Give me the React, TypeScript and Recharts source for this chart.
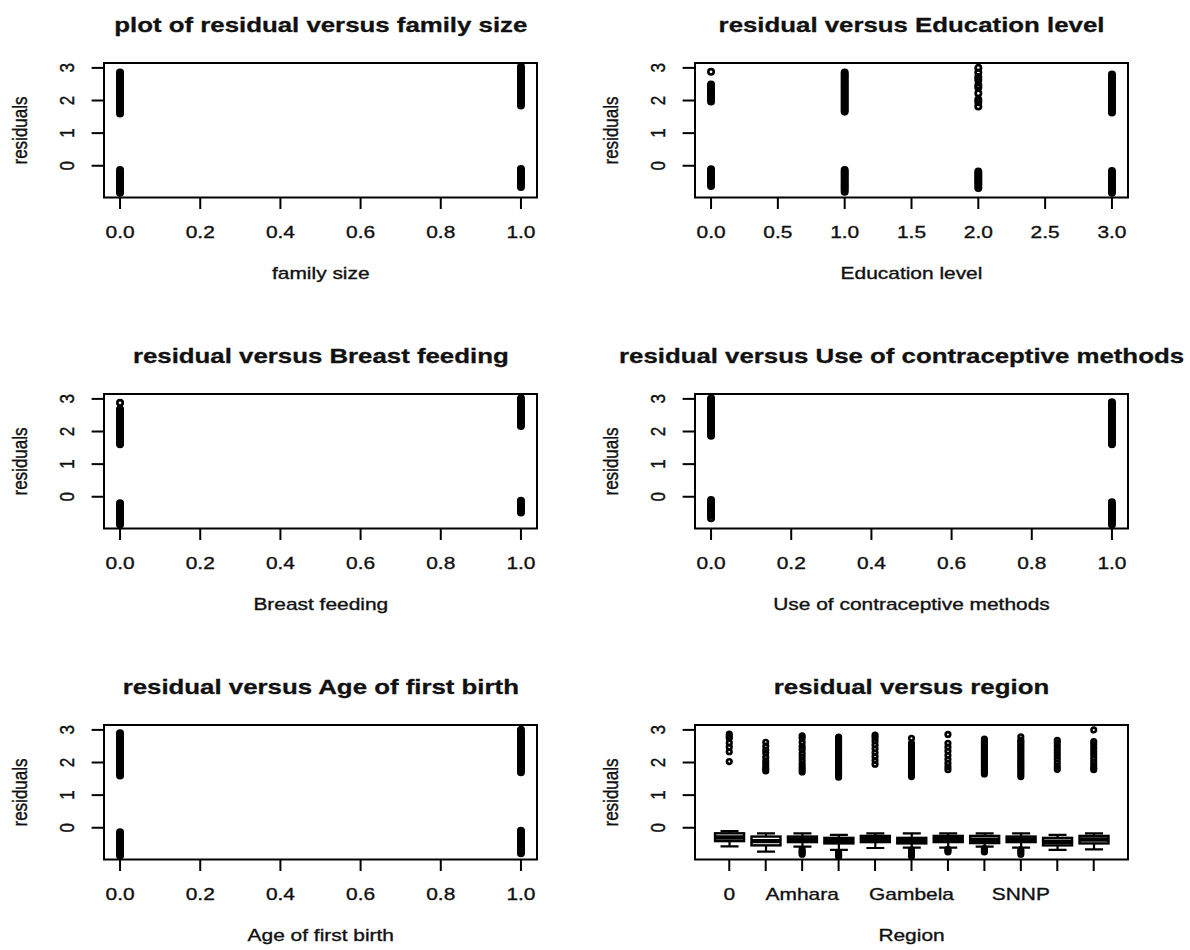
import React from "react";
import {
  ScatterChart,
  ComposedChart,
  Scatter,
  Bar,
  XAxis,
  YAxis,
  ReferenceArea,
} from "recharts";

// residuals, one list per vertical cluster
const familySize0 = [1.6, 1.66, 1.71, 1.78, 1.84, 1.9, 1.95, 2.02, 2.08, 2.13, 2.2, 2.26, 2.31, 2.38, 2.44, 2.49, 2.56, 2.62, 2.67, 2.74, 2.8, 2.86,
  -0.13, -0.19, -0.25, -0.3, -0.37, -0.43, -0.48, -0.55, -0.61, -0.66, -0.72, -0.78, -0.83];
const familySize1 = [1.85, 1.91, 1.97, 2.03, 2.1, 2.15, 2.22, 2.28, 2.33, 2.4, 2.46, 2.51, 2.58, 2.64, 2.7, 2.76, 2.81, 2.88, 2.94, 2.99, 3.04,
  -0.1, -0.16, -0.22, -0.28, -0.33, -0.4, -0.46, -0.51, -0.58, -0.65];

const education0 = [2.88, 1.97, 2.03, 2.09, 2.15, 2.21, 2.27, 2.33, 2.38, 2.44, 2.49,
  -0.11, -0.17, -0.23, -0.29, -0.35, -0.41, -0.46, -0.52, -0.57, -0.62];
const education1 = [1.66, 1.72, 1.78, 1.84, 1.9, 1.96, 2.02, 2.08, 2.14, 2.2, 2.26, 2.32, 2.38, 2.44, 2.5, 2.56, 2.62, 2.68, 2.74, 2.8, 2.86,
  -0.13, -0.19, -0.25, -0.31, -0.37, -0.43, -0.49, -0.55, -0.61, -0.67, -0.73, -0.8];
const education2 = [1.82, 1.95, 2.03, 2.22, 2.4, 2.47, 2.63, 2.72, 2.86, 3.0,
  -0.18, -0.24, -0.3, -0.36, -0.42, -0.48, -0.54, -0.6, -0.68];
const education3 = [1.63, 1.69, 1.75, 1.81, 1.87, 1.93, 1.99, 2.05, 2.11, 2.17, 2.23, 2.29, 2.35, 2.41, 2.47, 2.53, 2.59, 2.65, 2.71, 2.76, 2.8,
  -0.16, -0.22, -0.28, -0.34, -0.4, -0.46, -0.52, -0.58, -0.64, -0.7, -0.76, -0.83];

const breastFeeding0 = [2.88, 1.61, 1.67, 1.73, 1.79, 1.85, 1.91, 1.97, 2.03, 2.09, 2.15, 2.21, 2.27, 2.33, 2.39, 2.45, 2.51, 2.57, 2.63, 2.68,
  -0.2, -0.26, -0.32, -0.38, -0.44, -0.5, -0.56, -0.62, -0.68, -0.74, -0.8, -0.85];
const breastFeeding1 = [2.17, 2.23, 2.29, 2.35, 2.41, 2.47, 2.53, 2.59, 2.65, 2.71, 2.77, 2.83, 2.89, 2.95, 3.02,
  -0.12, -0.18, -0.24, -0.3, -0.36, -0.42, -0.48];

const contraceptive0 = [1.87, 1.93, 1.99, 2.05, 2.11, 2.17, 2.23, 2.29, 2.35, 2.41, 2.47, 2.53, 2.59, 2.65, 2.71, 2.77, 2.83, 2.89, 2.95, 3.02,
  -0.1, -0.16, -0.22, -0.28, -0.34, -0.4, -0.46, -0.52, -0.58, -0.66];
const contraceptive1 = [1.61, 1.67, 1.73, 1.79, 1.85, 1.91, 1.97, 2.03, 2.09, 2.15, 2.21, 2.27, 2.33, 2.39, 2.45, 2.51, 2.57, 2.63, 2.69, 2.75, 2.81, 2.86, 2.9,
  -0.17, -0.23, -0.29, -0.35, -0.41, -0.47, -0.53, -0.59, -0.65, -0.71, -0.77, -0.85];

const firstBirth0 = [1.6, 1.66, 1.72, 1.78, 1.84, 1.9, 1.96, 2.02, 2.08, 2.14, 2.2, 2.26, 2.32, 2.38, 2.44, 2.5, 2.56, 2.62, 2.68, 2.74, 2.8, 2.86, 2.9,
  -0.14, -0.2, -0.26, -0.32, -0.38, -0.44, -0.5, -0.56, -0.62, -0.68, -0.74, -0.8, -0.85];
const firstBirth1 = [1.7, 1.76, 1.82, 1.88, 1.94, 2.0, 2.06, 2.12, 2.18, 2.24, 2.3, 2.36, 2.42, 2.48, 2.54, 2.6, 2.66, 2.72, 2.78, 2.84, 2.9, 2.95, 3.0,
  -0.09, -0.15, -0.21, -0.27, -0.33, -0.39, -0.45, -0.51, -0.57, -0.63, -0.69, -0.74, -0.78];

// region boxplot
const regions = ["0", "Addis Ababa", "Amhara", "Benishangul", "Dire Dawa", "Gambela", "Harari", "Oromia", "SNNP", "Somali", "Tigray"];
const regionTickLabels = ["0", "", "Amhara", "", "", "Gambela", "", "", "SNNP", "", ""];
const regionWhiskerLow = [-0.57, -0.73, -0.58, -0.68, -0.62, -0.61, -0.61, -0.58, -0.61, -0.68, -0.66];
const regionQ1 = [-0.41, -0.54, -0.44, -0.48, -0.44, -0.48, -0.44, -0.47, -0.44, -0.54, -0.48];
const regionMedian = [-0.3, -0.41, -0.36, -0.4, -0.34, -0.4, -0.35, -0.37, -0.36, -0.43, -0.36];
const regionQ3 = [-0.17, -0.27, -0.27, -0.31, -0.25, -0.31, -0.25, -0.25, -0.27, -0.31, -0.25];
const regionWhiskerHigh = [-0.1, -0.17, -0.17, -0.22, -0.17, -0.17, -0.17, -0.17, -0.17, -0.22, -0.17];
const regionOutliersHigh = [
  [2.87, 2.8, 2.74, 2.6, 2.47, 2.33, 2.03],
  [2.62, 2.5, 2.38, 2.29, 2.16, 2.05, 1.95, 1.86, 1.8, 1.74],
  [2.82, 2.74, 2.62, 2.5, 2.4, 2.28, 2.17, 2.06, 1.96, 1.87, 1.79, 1.71],
  [2.78, 2.72, 2.66, 2.6, 2.53, 2.47, 2.41, 2.35, 2.29, 2.22, 2.16, 2.1, 2.04, 1.98, 1.91, 1.85, 1.79, 1.73, 1.67, 1.61, 1.55],
  [2.84, 2.76, 2.66, 2.54, 2.42, 2.3, 2.18, 2.06, 1.95],
  [2.74, 2.59, 2.53, 2.47, 2.41, 2.35, 2.28, 2.22, 2.16, 2.1, 2.04, 1.98, 1.92, 1.86, 1.8, 1.74, 1.68, 1.62, 1.57],
  [2.86, 2.59, 2.47, 2.35, 2.22, 2.1, 1.98, 1.87, 1.78],
  [2.72, 2.64, 2.58, 2.52, 2.46, 2.4, 2.34, 2.27, 2.21, 2.15, 2.09, 2.03, 1.97, 1.9, 1.84, 1.78, 1.72, 1.65],
  [2.79, 2.69, 2.63, 2.57, 2.51, 2.44, 2.38, 2.32, 2.26, 2.2, 2.13, 2.07, 2.01, 1.95, 1.88, 1.82, 1.76, 1.7, 1.63, 1.57],
  [2.68, 2.6, 2.5, 2.4, 2.3, 2.2, 2.1, 1.99, 1.88, 1.79],
  [3.0, 2.64, 2.55, 2.44, 2.34, 2.24, 2.13, 2.02, 1.92, 1.84, 1.78],
];
const regionOutliersLow = [
  [], [], [-0.66, -0.72, -0.77, -0.81], [-0.76, -0.81, -0.85, -0.88], [],
  [-0.68, -0.74, -0.8, -0.87], [-0.66, -0.7, -0.74], [-0.64, -0.69, -0.74], [-0.68, -0.74, -0.81], [], [],
];

const unitTicks = [0, 0.2, 0.4, 0.6, 0.8, 1];
const unitTickLabels = ["0.0", "0.2", "0.4", "0.6", "0.8", "1.0"];
const eduTicks = [0, 0.5, 1, 1.5, 2, 2.5, 3];
const eduTickLabels = ["0.0", "0.5", "1.0", "1.5", "2.0", "2.5", "3.0"];
const residualTicks = [0, 1, 2, 3];
const regionTicks = [1, 2, 3, 4, 5, 6, 7, 8, 9, 10, 11];

const FONT = '"Liberation Sans", Arial, Helvetica, sans-serif';
const STRETCH = 1.23; // the reference is stretched sideways
const Y_DOMAIN = [-0.97, 3.15];
const BOX_W = 433;
const BOX_H = 134.4;
const Y_AXIS_W = 50;
const X_AXIS_H = 52;
const PAD = 3;
const COL_LEFT = [104.3, 695];
const rowTop = (r: number) => 63.3 + 331 * r;

const pts = (x: number, ys: number[]) => ys.map((y) => ({ x, y }));

const scatterPanels = [
  {
    title: "plot of residual versus family size", xLabel: "family size", row: 0, col: 0,
    xDomain: [-0.04, 1.04], xTicks: unitTicks, xTickLabels: unitTickLabels,
    points: [...pts(0, familySize0), ...pts(1, familySize1)],
  },
  {
    title: "residual versus Education level", xLabel: "Education level", row: 0, col: 1,
    xDomain: [-0.12, 3.12], xTicks: eduTicks, xTickLabels: eduTickLabels,
    points: [...pts(0, education0), ...pts(1, education1), ...pts(2, education2), ...pts(3, education3)],
  },
  {
    title: "residual versus Breast feeding", xLabel: "Breast feeding", row: 1, col: 0,
    xDomain: [-0.04, 1.04], xTicks: unitTicks, xTickLabels: unitTickLabels,
    points: [...pts(0, breastFeeding0), ...pts(1, breastFeeding1)],
  },
  {
    title: "residual versus Use of contraceptive methods", xLabel: "Use of contraceptive methods", row: 1, col: 1,
    xDomain: [-0.04, 1.04], xTicks: unitTicks, xTickLabels: unitTickLabels,
    points: [...pts(0, contraceptive0), ...pts(1, contraceptive1)],
  },
  {
    title: "residual versus Age of first birth", xLabel: "Age of first birth", row: 2, col: 0,
    xDomain: [-0.04, 1.04], xTicks: unitTicks, xTickLabels: unitTickLabels,
    points: [...pts(0, firstBirth0), ...pts(1, firstBirth1)],
  },
];

const regionRows = regions.map((name, i) => ({
  pos: i + 1,
  name,
  whiskerLow: regionWhiskerLow[i],
  q1: regionQ1[i],
  median: regionMedian[i],
  q3: regionQ3[i],
  whiskerHigh: regionWhiskerHigh[i],
}));
const regionOutliers = regions.flatMap((_, i) =>
  [...regionOutliersHigh[i], ...regionOutliersLow[i]].map((value) => ({ pos: i + 1, value }))
);

const tickLineStyle = { stroke: "#000", strokeWidth: 2 };

function XTick(props: any) {
  const { x, y, payload, labels, ticks } = props;
  const label = labels[ticks.indexOf(payload.value)];
  return (
    <text transform={`translate(${x},${y + 28.9}) scale(${STRETCH},1)`} textAnchor="middle"
      fontFamily={FONT} fontSize={17} fill="#111" stroke="#111" strokeWidth={0.35}>
      {label}
    </text>
  );
}

function YTick(props: any) {
  const { x, y, payload } = props;
  return (
    <text transform={`translate(${x - 18.1},${y}) scale(${STRETCH},1) rotate(-90)`} textAnchor="middle"
      fontFamily={FONT} fontSize={17} fill="#111" stroke="#111" strokeWidth={0.35}>
      {String(payload.value)}
    </text>
  );
}

const Ring = (props: any) => (
  <circle cx={props.cx} cy={props.cy} r={2.7} fill="none" stroke="#000" strokeWidth={2.65} />
);

const SmallRing = (props: any) => (
  <circle cx={props.cx} cy={props.cy} r={2.3} fill="none" stroke="#000" strokeWidth={2.6} />
);

function BoxShape(props: any) {
  const { x, y, width, height, payload } = props;
  const top = Math.min(y, y + height);
  const h = Math.abs(height);
  const lo = payload.whiskerLow;
  const hi = payload.whiskerHigh;
  const py = (v: number) => top + (h * (hi - v)) / (hi - lo);
  const cx = x + width / 2;
  const staple = 9;
  return (
    <g>
      <line x1={cx} x2={cx} y1={py(hi)} y2={py(lo)} stroke="#000" strokeWidth={2.2} />
      <line x1={cx - staple} x2={cx + staple} y1={py(hi)} y2={py(hi)} stroke="#000" strokeWidth={2.2} />
      <line x1={cx - staple} x2={cx + staple} y1={py(lo)} y2={py(lo)} stroke="#000" strokeWidth={2.2} />
      <rect x={x} y={py(payload.q3)} width={width} height={py(payload.q1) - py(payload.q3)}
        fill="#fff" stroke="#000" strokeWidth={2.4} />
      <line x1={x} x2={x + width} y1={py(payload.median)} y2={py(payload.median)} stroke="#000" strokeWidth={4.4} />
    </g>
  );
}

function ScatterPanel({ panel }: any) {
  const left = COL_LEFT[panel.col];
  const top = rowTop(panel.row);
  return (
    <div style={{ position: "absolute", left: left - Y_AXIS_W, top: top - PAD }}>
      <ScatterChart width={Y_AXIS_W + BOX_W + PAD} height={PAD + BOX_H + X_AXIS_H}
        margin={{ top: PAD, right: PAD, bottom: 0, left: 0 }}>
        <XAxis type="number" dataKey="x" domain={panel.xDomain} ticks={panel.xTicks} interval={0}
          allowDataOverflow axisLine={false} tickLine={tickLineStyle} tickSize={11.6} tickMargin={0}
          height={X_AXIS_H} tick={(p: any) => <XTick {...p} labels={panel.xTickLabels} ticks={panel.xTicks} />} />
        <YAxis type="number" dataKey="y" domain={Y_DOMAIN} ticks={residualTicks} interval={0}
          allowDataOverflow axisLine={false} tickLine={tickLineStyle} tickSize={12.4} tickMargin={0}
          width={Y_AXIS_W} tick={(p: any) => <YTick {...p} />} />
        <Scatter data={panel.points} shape={Ring} isAnimationActive={false} />
        <ReferenceArea x1={panel.xDomain[0]} x2={panel.xDomain[1]} y1={Y_DOMAIN[0]} y2={Y_DOMAIN[1]}
          fill="none" stroke="#000" strokeWidth={2} ifOverflow="visible" />
      </ScatterChart>
    </div>
  );
}

function RegionPanel() {
  const left = COL_LEFT[1];
  const top = rowTop(2);
  const xDomain = [0.06, 11.94];
  return (
    <div style={{ position: "absolute", left: left - Y_AXIS_W, top: top - PAD }}>
      <ComposedChart width={Y_AXIS_W + BOX_W + PAD} height={PAD + BOX_H + X_AXIS_H} data={regionRows}
        margin={{ top: PAD, right: PAD, bottom: 0, left: 0 }}>
        <XAxis type="number" dataKey="pos" domain={xDomain} ticks={regionTicks} interval={0}
          allowDataOverflow axisLine={false} tickLine={tickLineStyle} tickSize={11.6} tickMargin={0}
          height={X_AXIS_H} tick={(p: any) => <XTick {...p} labels={regionTickLabels} ticks={regionTicks} />} />
        <YAxis type="number" domain={Y_DOMAIN} ticks={residualTicks} interval={0}
          allowDataOverflow axisLine={false} tickLine={tickLineStyle} tickSize={12.4} tickMargin={0}
          width={Y_AXIS_W} tick={(p: any) => <YTick {...p} />} />
        <Bar dataKey={(d: any) => [d.whiskerLow, d.whiskerHigh]} barSize={29} shape={BoxShape}
          isAnimationActive={false} />
        <Scatter data={regionOutliers} dataKey="value" shape={SmallRing} isAnimationActive={false} />
        <ReferenceArea x1={xDomain[0]} x2={xDomain[1]} y1={Y_DOMAIN[0]} y2={Y_DOMAIN[1]}
          fill="none" stroke="#000" strokeWidth={2} ifOverflow="visible" />
      </ComposedChart>
    </div>
  );
}

// titles are centred over the box; the long one is nudged left so it stays inside the page
const panelTexts = [
  ...scatterPanels.map((p) => ({ title: p.title, xLabel: p.xLabel, row: p.row, col: p.col })),
  { title: "residual versus region", xLabel: "Region", row: 2, col: 1 },
];
const titleShift: Record<string, number> = { "residual versus Use of contraceptive methods": -10 };

function Labels() {
  return (
    <svg width={1190} height={950} style={{ position: "absolute", left: 0, top: 0, pointerEvents: "none" }}>
      {panelTexts.map((t) => {
        const bl = COL_LEFT[t.col];
        const cx = bl + BOX_W / 2;
        const top = rowTop(t.row);
        const bottom = top + BOX_H;
        const midY = top + BOX_H / 2;
        return (
          <g key={t.title} fontFamily={FONT} fill="#111" stroke="#111">
            <text transform={`translate(${cx + (titleShift[t.title] || 0)},${top - 31.8}) scale(${STRETCH},1)`}
              textAnchor="middle" fontSize={21} fontWeight="bold" strokeWidth={0.3}>
              {t.title}
            </text>
            <text transform={`translate(${cx},${bottom + 81.5}) scale(${STRETCH},1)`} textAnchor="middle"
              fontSize={17} strokeWidth={0.35}>
              {t.xLabel}
            </text>
            <text transform={`translate(${bl - 77},${midY}) scale(${STRETCH},1) rotate(-90)`} textAnchor="middle"
              fontSize={17} strokeWidth={0.35}>
              residuals
            </text>
          </g>
        );
      })}
    </svg>
  );
}

export default function App() {
  return (
    <div style={{ position: "absolute", left: 0, top: 0, width: 1190, height: 950, overflow: "hidden", background: "#fff" }}>
      {scatterPanels.map((p) => (
        <ScatterPanel key={p.title} panel={p} />
      ))}
      <RegionPanel />
      <Labels />
    </div>
  );
}
